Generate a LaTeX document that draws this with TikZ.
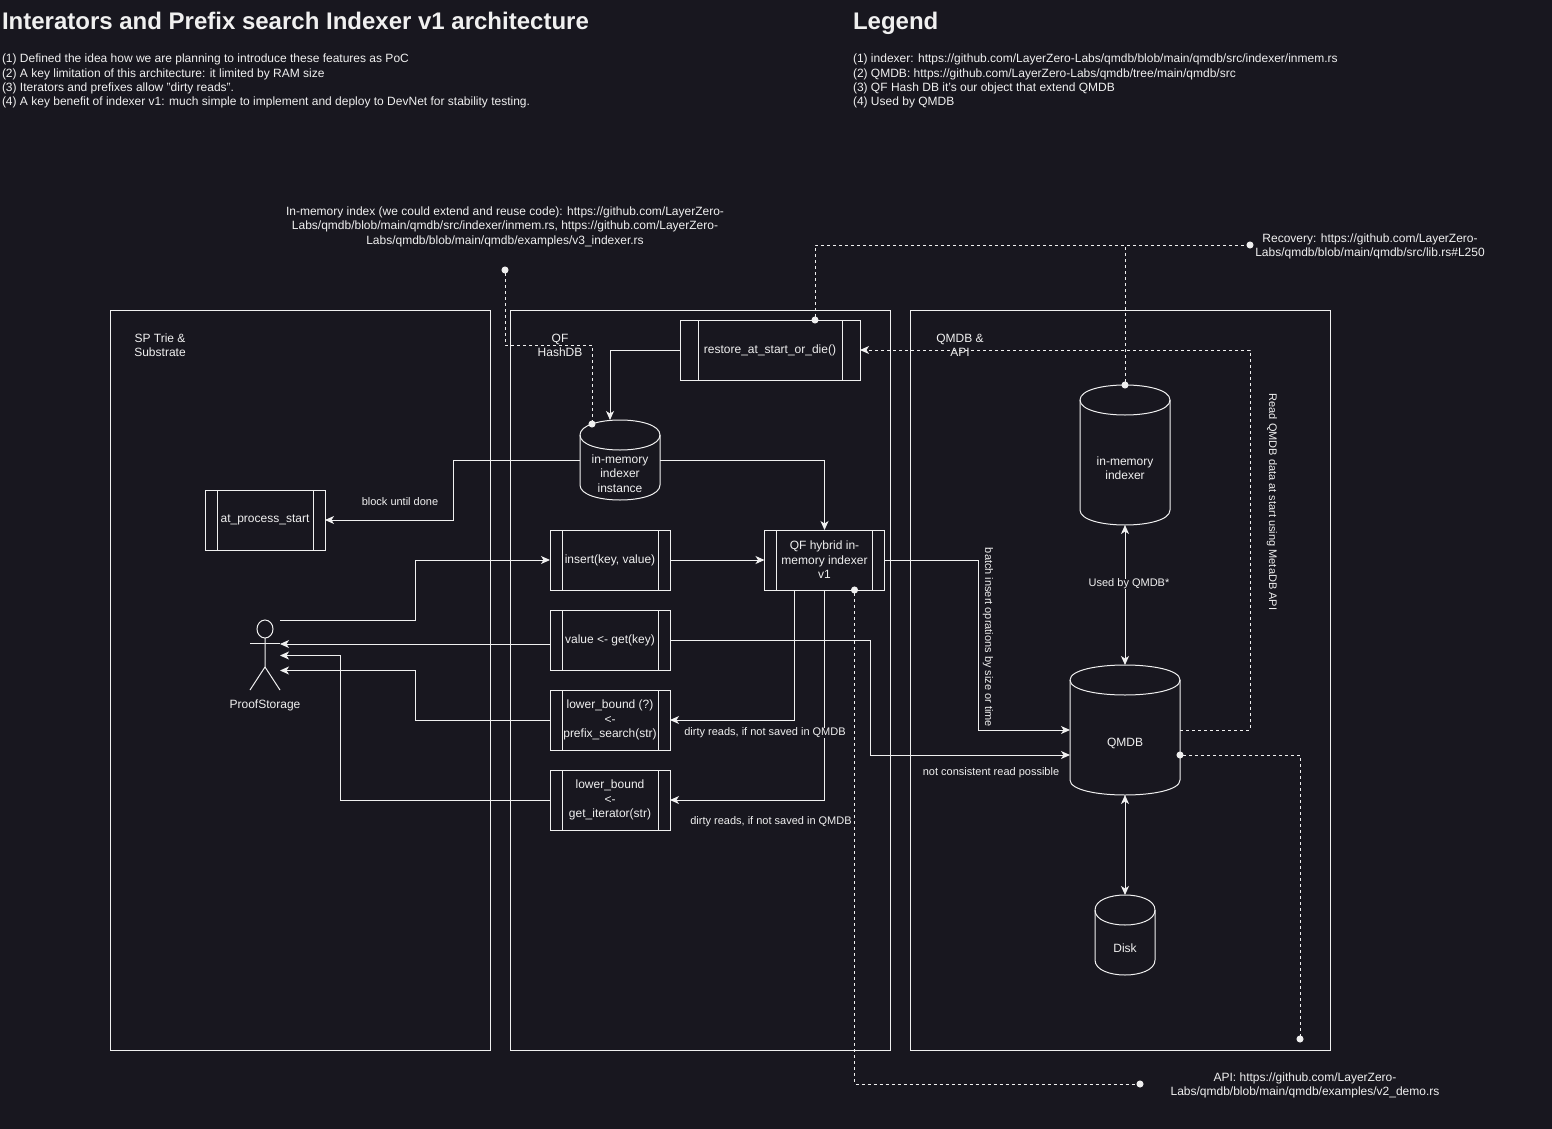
\documentclass[tikz,border=0pt]{standalone}
\usepackage{fontspec}
\setmainfont{Liberation Sans}
\usepackage{xcolor}
\usetikzlibrary{shapes.geometric, calc, arrows.meta, positioning}
\definecolor{bgcol}{HTML}{18171F}
\definecolor{fgcol}{HTML}{F0F0F0}

\tikzset{
    base/.style={font=\fontsize{12}{14.4}\selectfont, align=center, inner sep=0pt, outer sep=0pt},
    small/.style={base, font=\fontsize{11}{13.2}\selectfont},
    note/.style={base, align=left, anchor=north west},
    title/.style={base, align=left, anchor=base west, font=\fontsize{24}{28}\selectfont\bfseries},
    region/.style={base, draw, minimum width=#1, minimum height=740pt},
    procbox/.style n args={2}{base, draw, minimum width=#1, minimum height=#2, path picture={
        \draw ($(path picture bounding box.north west)!0.1!(path picture bounding box.north east)$) --
              ($(path picture bounding box.south west)!0.1!(path picture bounding box.south east)$);
        \draw ($(path picture bounding box.north west)!0.9!(path picture bounding box.north east)$) --
              ($(path picture bounding box.south west)!0.9!(path picture bounding box.south east)$);}},
    link/.style={-{Stealth[inset=2.5pt,length=9pt,width=8pt]}},
    biglink/.style={{Stealth[inset=2.5pt,length=9pt,width=8pt]}-{Stealth[inset=2.5pt,length=9pt,width=8pt]}},
    dashlink/.style={link, dash pattern=on 3pt off 3pt},
    dotlink/.style={{Circle[length=7pt]}-{Circle[length=7pt]}, dash pattern=on 3pt off 3pt,
        shorten <=-3.5pt, shorten >=-3.5pt},
    dotstart/.style={{Circle[length=7pt]}-, dash pattern=on 3pt off 3pt, shorten <=-3.5pt},
}

% cylinder: name, left, top, width, height, text
\newcommand{\cylnode}[6]{
    \begin{scope}[shift={(#2,#3)}]
        \draw (0,15) .. controls (0,-5) and (#4,-5) .. (#4,15) -- (#4,#5-15)
            .. controls (#4,#5+5) and (0,#5+5) .. (0,#5-15) -- cycle;
        \draw (0,15) .. controls (0,35) and (#4,35) .. (#4,15);
        \node[base, minimum width=#4 pt, minimum height=#5 pt,
            label={[base, name=#1txt, yshift=-13.5pt]center:#6}] (#1) at (#4/2,#5/2) {};
    \end{scope}
}

\begin{document}
\begin{tikzpicture}[x=1pt, y=-1pt, line width=1pt, color=fgcol]
    \fill[bgcol] (0,0) rectangle (1552,1129);
    \useasboundingbox (0,0) rectangle (1552,1129);

    % Headers
    \node[title] (maintitle) at (2,29.5) {Interators and Prefix search Indexer v1 architecture};
    \node[note] (mainnotes) at (2,54) {(1) Defined the idea how we are planning to introduce these features as PoC\\
        (2) A key limitation of this architecture: it limited by RAM size\\
        (3) Iterators and prefixes allow "dirty reads".\\
        (4) A key benefit of indexer v1: much simple to implement and deploy to DevNet for stability testing.};
    \node[title] (legendtitle) at (853,29.5) {Legend};
    \node[note] (legendnotes) at (853,54) {(1) indexer: https://github.com/LayerZero-Labs/qmdb/blob/main/qmdb/src/indexer/inmem.rs\\
        (2) QMDB: https://github.com/LayerZero-Labs/qmdb/tree/main/qmdb/src\\
        (3) QF Hash DB it's our object that extend QMDB\\
        (4) Used by QMDB};

    % Regions
    \node[region=380pt] (sptrie) at (300,680) {};
    \node[region=380pt] (qfhash) at (700,680) {};
    \node[region=420pt] (qmdbreg) at (1120,680) {};
    \node[base] (sptrietxt) at (160,345.5) {SP Trie \&\\Substrate};
    \node[base] (qfhashtxt) at (560,345.5) {QF\\HashDB};
    \node[base] (qmdbregtxt) at (960,345.5) {QMDB \&\\API};

    % Boxes
    \node[procbox={180pt}{60pt}] (restorebox) at (770,350) {restore\_at\_start\_or\_die()};
    \node[procbox={120pt}{60pt}] (startbox) at (265,520) {at\_process\_start};
    \node[procbox={120pt}{60pt}] (insertbox) at (610,560) {insert(key, value)};
    \node[procbox={120pt}{60pt}] (getbox) at (610,640) {value <- get(key)};
    \node[procbox={120pt}{60pt}] (prefixbox) at (610,720) {lower\_bound (?)\\<-\\prefix\_search(str)};
    \node[procbox={120pt}{60pt}] (iterbox) at (610,800) {lower\_bound\\<-\\get\_iterator(str)};
    \node[procbox={120pt}{60pt}] (hybridbox) at (824.5,560) {QF hybrid in-\\memory indexer\\v1};

    % Cylinders
    \cylnode{instcyl}{580}{420}{80}{80}{in-memory\\indexer\\instance}
    \cylnode{memcyl}{1080}{385}{90}{140}{in-memory\\indexer}
    \cylnode{qmdbcyl}{1070}{665}{110}{130}{QMDB}
    \cylnode{diskcyl}{1095}{895}{60}{80}{Disk}

    % Actor
    \node[base, draw, ellipse, minimum width=16pt, minimum height=18pt] (actorhead) at (265,629) {};
    \draw (actorhead.south) -- (265,667) -- (250,690);
    \draw (265,667) -- (280,690);
    \draw (250,643.5) -- (280,643.5);
    \node[base] (actortxt) at (265,705) {ProofStorage};

    % Free ends
    \coordinate (actorout) at (280,620);
    \coordinate (actorget) at (280,644);
    \coordinate (actoriter) at (280,655.5);
    \coordinate (actorprefix) at (280,670.5);
    \coordinate (indexdot) at (505,270);
    \coordinate (instdot) at (592,424);
    \coordinate (instin) at (610,420);
    \coordinate (recoverdot) at (1250,245);
    \coordinate (apidot) at (1140,1084);
    \coordinate (apidotb) at (1300,1039);
    \coordinate (qmdbbatch) at (1070,730);
    \coordinate (qmdbget) at (1070,755);
    \coordinate (qmdbread) at (1180,730);
    \coordinate (qmdbapi) at (1180,755);

    % Connectors
    \draw[link] (restorebox.west) -| (instin);
    \draw[link] (instcyl.west) -- (453,460) |- (startbox.east);
    \draw[link] (instcyl.east) -| (hybridbox.north);
    \draw[link] (actorout) -- (415,620) |- (insertbox.west);
    \draw[link] (insertbox.east) -- (hybridbox.west);
    \draw[link] (getbox.west |- actorget) -- (actorget);
    \draw[link] (prefixbox.west) -- (415,720) |- (actorprefix);
    \draw[link] (iterbox.west) -- (340,800) |- (actoriter);
    \draw[link] ([xshift=-30pt]hybridbox.south) |- (prefixbox.east);
    \draw[link] (hybridbox.south) |- (iterbox.east);
    \draw[link] (hybridbox.east) -- (978,560) |- (qmdbbatch);
    \draw[link] (getbox.east) -- (870,640) |- (qmdbget);
    \draw[biglink] (memcyl.south) -- (qmdbcyl.north);
    \draw[biglink] (qmdbcyl.south) -- (diskcyl.north);

    % Dashed connectors
    \draw[dotlink] (indexdot) -- (505,345) -- (592,345) -- (instdot);
    \draw[dotlink] ([xshift=45pt]restorebox.north) -- (815,245) -- (recoverdot);
    \draw[dotstart] (memcyl.north) -- (memcyl.north |- recoverdot);
    \draw[dashlink] (qmdbread) -- (1250,730) |- (restorebox.east);
    \draw[dotlink] (qmdbapi) -- (1300,755) -- (apidotb);
    \draw[dotlink] ([xshift=30pt]hybridbox.south) -- (854.5,1084) -- (apidot);

    % Labels
    \node[small] (blocktxt) at (400,502) {block until done};
    \node[small, fill=bgcol] (dirtytxta) at (765,733) {dirty reads, if not saved in QMDB};
    \node[small] (dirtytxtb) at (771,822) {dirty reads, if not saved in QMDB};
    \node[small] (readtxt) at (991,773) {not consistent read possible};
    \node[small, fill=bgcol] (usedtxt) at (1129,584) {Used by QMDB*};
    \node[small, rotate=-90] (batchtxt) at (988,637.5) {batch insert oprations by size or time};
    \node[small, rotate=-90] (metatxt) at (1272,502) {Read QMDB data at start using MetaDB API};
    \node[base] (indextxt) at (505,226.5) {In-memory index (we could extend and reuse code): https://github.com/LayerZero-\\
        Labs/qmdb/blob/main/qmdb/src/indexer/inmem.rs, https://github.com/LayerZero-\\
        Labs/qmdb/blob/main/qmdb/examples/v3\_indexer.rs};
    \node[base] (recovertxt) at (1370,246.5) {Recovery: https://github.com/LayerZero-\\Labs/qmdb/blob/main/qmdb/src/lib.rs\#L250};
    \node[base] (apitxt) at (1305,1085.5) {API: https://github.com/LayerZero-\\Labs/qmdb/blob/main/qmdb/examples/v2\_demo.rs};
\end{tikzpicture}
\end{document}
